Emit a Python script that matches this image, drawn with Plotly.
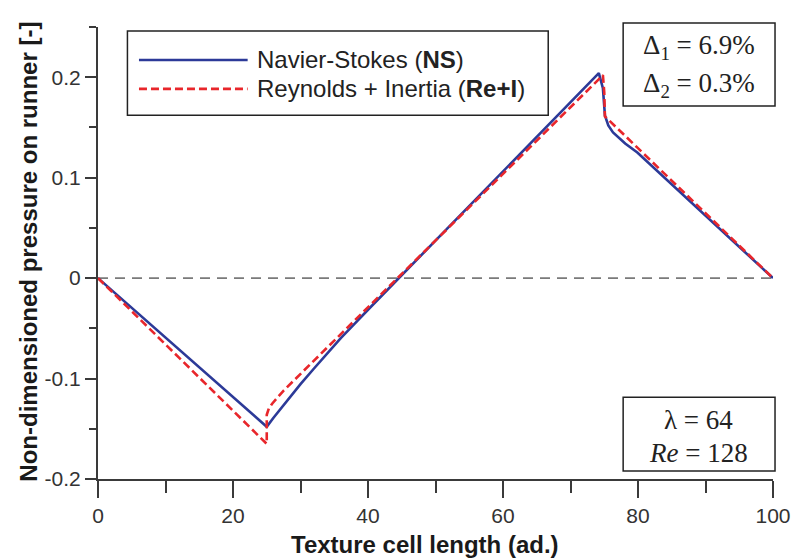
import plotly.graph_objects as go

# Navier-Stokes solution along the texture cell
x_ns = [0, 25, 26, 27, 28, 30, 32, 34, 36, 38, 40, 74.2, 74.8, 75.1, 75.6, 76.3, 77.2,
        78.1, 79.9, 100]
p_ns = [0, -0.148, -0.139, -0.1305, -0.122, -0.1055, -0.090, -0.0745, -0.0595, -0.0455,
        -0.0315, 0.204, 0.189, 0.162, 0.152, 0.145, 0.139, 0.134, 0.125, 0]

# Reynolds + Inertia solution
x_rei = [0, 25, 25, 25.3, 25.8, 27.5, 74.8, 75.0, 75.1, 100]
p_rei = [0, -0.165, -0.136, -0.130, -0.125, -0.112, 0.202, 0.185, 0.161, 0]

x_ticks = [0, 20, 40, 60, 80, 100]
y_ticks = [-0.2, -0.1, 0, 0.1, 0.2]
y_tick_labels = ["-0.2", "-0.1", "0", "0.1", "0.2"]

legend_names = ["Navier-Stokes (<b>NS</b>)", "Reynolds + Inertia (<b>Re+I</b>)"]
info_top = ["Δ<sub>1</sub> = 6.9%", "Δ<sub>2</sub> = 0.3%"]
info_bottom = ["λ = 64", "<i>Re</i> = 128"]

BLUE = "#2c3a98"
RED = "#e8262b"
AXIS = "#3a3a3a"
SANS = "Arial, Liberation Sans, sans-serif"
SERIF = "Times New Roman, Liberation Serif, serif"

fig = go.Figure()
fig.add_trace(go.Scatter(x=x_ns, y=p_ns, mode="lines", name=legend_names[0],
                         line=dict(color=BLUE, width=2.6)))
fig.add_trace(go.Scatter(x=x_rei, y=p_rei, mode="lines", name=legend_names[1],
                         line=dict(color=RED, width=2.6, dash="8px,4px")))

shapes = [
    # zero reference line
    dict(type="line", xref="x", yref="y", x0=0, x1=100, y0=0, y1=0, layer="below",
         line=dict(color="#7a7a7a", width=1.6, dash="10px,7px")),
    # legend frame
    dict(type="rect", xref="paper", yref="paper", x0=0.0436, x1=0.667, y0=0.805, y1=0.991,
         line=dict(color="#222", width=1.5), fillcolor="white"),
    dict(type="line", xref="paper", yref="paper", x0=0.0607, x1=0.2217, y0=0.927, y1=0.927,
         line=dict(color=BLUE, width=2.6)),
    dict(type="line", xref="paper", yref="paper", x0=0.0607, x1=0.2217, y0=0.863, y1=0.863,
         line=dict(color=RED, width=2.6, dash="8px,4px")),
    # parameter boxes
    dict(type="rect", xref="paper", yref="paper", x0=0.778, x1=1.003, y0=0.825, y1=1.009,
         line=dict(color="#222", width=1.5), fillcolor="white"),
    dict(type="rect", xref="paper", yref="paper", x0=0.778, x1=1.003, y0=0.0177, y1=0.181,
         line=dict(color="#222", width=1.5), fillcolor="white"),
]

annotations = []
for name, yp in zip(legend_names, [0.927, 0.863]):
    annotations.append(dict(xref="paper", yref="paper", x=0.233, y=yp, text=name,
                            showarrow=False, xanchor="left", yanchor="middle",
                            font=dict(family=SANS, size=24, color="#222")))
for txt, yp in zip(info_top, [0.956, 0.872]):
    annotations.append(dict(xref="paper", yref="paper", x=0.890, y=yp, text=txt,
                            showarrow=False, xanchor="center", yanchor="middle",
                            font=dict(family=SERIF, size=27, color="#222")))
for txt, yp in zip(info_bottom, [0.1305, 0.0575]):
    annotations.append(dict(xref="paper", yref="paper", x=0.890, y=yp, text=txt,
                            showarrow=False, xanchor="center", yanchor="middle",
                            font=dict(family=SERIF, size=27, color="#222")))
# axis titles
annotations.append(dict(xref="paper", yref="paper", x=0.485, y=-0.146,
                        text="<b>Texture cell length (ad.)</b>", showarrow=False,
                        xanchor="center", yanchor="middle",
                        font=dict(family=SANS, size=24, color="#1a1a1a")))
annotations.append(dict(xref="paper", yref="paper", x=-0.1029, y=0.502,
                        text="<b>Non-dimensioned pressure on runner [-]</b>",
                        showarrow=False, textangle=-90, xanchor="center", yanchor="middle",
                        font=dict(family=SANS, size=24, color="#1a1a1a")))

fig.update_layout(
    width=794, height=560,
    margin=dict(l=97.5, r=21, t=27, b=81, pad=0, autoexpand=False),
    paper_bgcolor="white", plot_bgcolor="white",
    showlegend=False,
    shapes=shapes, annotations=annotations,
    xaxis=dict(range=[0, 100], tickvals=x_ticks, ticks="outside", ticklen=17,
               tickwidth=1.6, tickcolor=AXIS, showline=True, linecolor=AXIS, linewidth=2,
               showgrid=False, zeroline=False, automargin=False,
               tickfont=dict(family=SANS, size=21, color="#333"),
               minor=dict(dtick=10, tick0=0, ticks="outside", ticklen=12,
                          tickwidth=1.6, tickcolor=AXIS, showgrid=False)),
    yaxis=dict(range=[-0.2, 0.25], tickvals=y_ticks, ticktext=y_tick_labels,
               ticks="outside", ticklen=11, tickwidth=1.6, tickcolor=AXIS,
               showline=True, linecolor=AXIS, linewidth=2, showgrid=False, zeroline=False,
               automargin=False,
               tickfont=dict(family=SANS, size=21, color="#333"),
               minor=dict(dtick=0.05, tick0=0, ticks="outside", ticklen=7,
                          tickwidth=1.6, tickcolor=AXIS, showgrid=False)),
)

fig.write_html("out.html")
